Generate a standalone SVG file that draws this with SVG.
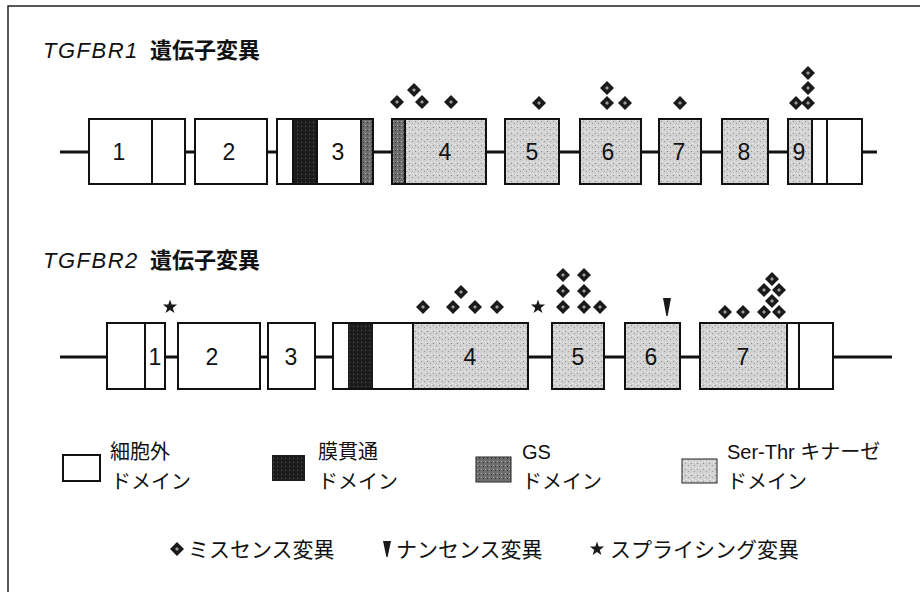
<svg xmlns="http://www.w3.org/2000/svg" width="920" height="592" viewBox="0 0 920 592">
<style>
.frame{fill:none;stroke:#222;stroke-width:1.5}
.ln{stroke:#111;stroke-width:3;fill:none}
.ex{fill:#fff;stroke:#111;stroke-width:2}
.dv{stroke:#111;stroke-width:2}
.tm{fill:url(#pTM)}
.gs{fill:url(#pGS)}
.kn{fill:url(#pKN)}
.num{font-family:"Liberation Sans",Arial,sans-serif;font-size:23px;fill:#111;text-anchor:middle}
.ttl{font-family:"Liberation Sans",Arial,sans-serif;font-style:italic;font-size:22px;fill:#111;letter-spacing:1.5px}
.tj{font-family:"Noto Sans CJK JP","Noto Sans",sans-serif;font-size:22px;font-weight:bold;fill:#111}
.jp{font-family:"Noto Sans CJK JP","Noto Sans",sans-serif;font-size:20px;fill:#111}
.lat{font-family:"Liberation Sans",Arial,"Noto Sans CJK JP",sans-serif;font-size:20px;fill:#111}
.leg{font-family:"Noto Sans CJK JP","Noto Sans",sans-serif;font-size:21px;fill:#111}
</style>
<defs>
<pattern id="pKN" width="6" height="6" patternUnits="userSpaceOnUse">
<rect width="6" height="6" fill="#d2d2d2"/>
<rect x="1" y="1" width="1" height="1" fill="#8a8a8a"/>
<rect x="4" y="3" width="1" height="1" fill="#9a9a9a"/>
<rect x="2" y="5" width="1" height="1" fill="#f0f0f0"/>
<rect x="5" y="0" width="1" height="1" fill="#f0f0f0"/>
</pattern>
<pattern id="pGS" width="4" height="4" patternUnits="userSpaceOnUse">
<rect width="4" height="4" fill="#6e6e6e"/>
<rect x="1" y="1" width="1" height="1" fill="#b0b0b0"/>
<rect x="3" y="2" width="1" height="1" fill="#333"/>
</pattern>
<pattern id="pTM" width="4" height="4" patternUnits="userSpaceOnUse">
<rect width="4" height="4" fill="#1c1c1c"/>
<rect x="1" y="2" width="1" height="1" fill="#555"/>
</pattern>
<g id="dia"><polygon points="0,-7 7,0 0,7 -7,0" fill="#1a1a1a"/><polygon points="0,-2 2,0 0,2 -2,0" fill="#9a9a9a"/></g>
<polygon id="star" points="0,-7.5 1.7,-2.4 7.1,-2.4 2.8,0.9 4.4,6.1 0,2.9 -4.4,6.1 -2.8,0.9 -7.1,-2.4 -1.7,-2.4" fill="#1a1a1a"/>
<polygon id="tri" points="-4,-9 4,-9 0.6,9 -0.6,9" fill="#1a1a1a"/>
</defs>

<path class="frame" d="M8,592 V6 H920"/>

<text x="43" y="58"><tspan class="ttl">TGFBR1</tspan><tspan class="tj" x="150">遺伝子変異</tspan></text>
<text x="43" y="268"><tspan class="ttl">TGFBR2</tspan><tspan class="tj" x="150">遺伝子変異</tspan></text>

<g id="connectors">
<line class="ln" x1="60" y1="152" x2="877" y2="152"/>
<line class="ln" x1="60" y1="357" x2="892" y2="357"/>
</g>

<g id="r1e1"><rect class="ex" x="89" y="119" width="96" height="65"/><line class="dv" x1="152" y1="119" x2="152" y2="184"/><text class="num" x="119" y="160">1</text></g>
<g id="r1e2"><rect class="ex" x="195" y="119" width="72" height="65"/><text class="num" x="229" y="160">2</text></g>
<g id="r1e3"><rect class="ex" x="277" y="119" width="96" height="65"/><rect class="tm" x="293" y="120" width="24" height="63"/><rect class="gs" x="361" y="120" width="11" height="63"/><line class="dv" x1="293" y1="119" x2="293" y2="184"/><line class="dv" x1="317" y1="119" x2="317" y2="184"/><line class="dv" x1="361" y1="119" x2="361" y2="184"/><rect x="277" y="119" width="96" height="65" fill="none" stroke="#111" stroke-width="2"/><text class="num" x="338" y="160">3</text></g>
<g id="r1e4"><rect class="ex kn" x="392" y="119" width="94" height="65"/><rect class="gs" x="393" y="120" width="12" height="63"/><line class="dv" x1="405" y1="119" x2="405" y2="184"/><text class="num" x="445" y="160">4</text></g>
<g id="r1e5"><rect class="ex kn" x="505" y="119" width="54" height="65"/><text class="num" x="532" y="160">5</text></g>
<g id="r1e6"><rect class="ex kn" x="580" y="119" width="61" height="65"/><text class="num" x="608" y="160">6</text></g>
<g id="r1e7"><rect class="ex kn" x="659" y="119" width="42" height="65"/><text class="num" x="679" y="160">7</text></g>
<g id="r1e8"><rect class="ex kn" x="722" y="119" width="46" height="65"/><text class="num" x="744" y="160">8</text></g>
<g id="r1e9"><rect class="ex" x="788" y="119" width="74" height="65"/><rect class="kn" x="789" y="120" width="23" height="63"/><line class="dv" x1="812" y1="119" x2="812" y2="184"/><line class="dv" x1="827" y1="119" x2="827" y2="184"/><text class="num" x="799" y="160">9</text></g>

<g id="r1marks">
<use href="#dia" x="397" y="102"/><use href="#dia" x="414" y="90"/><use href="#dia" x="422" y="102"/><use href="#dia" x="451" y="102"/>
<use href="#dia" x="539" y="103"/>
<use href="#dia" x="607" y="88"/><use href="#dia" x="607" y="103"/><use href="#dia" x="625" y="103"/>
<use href="#dia" x="680" y="103"/>
<use href="#dia" x="808" y="73"/><use href="#dia" x="808" y="88"/><use href="#dia" x="808" y="103"/><use href="#dia" x="796" y="103"/>
</g>

<g id="r2e1"><rect class="ex" x="107" y="323" width="58" height="66"/><line class="dv" x1="145" y1="323" x2="145" y2="389"/><text class="num" x="155" y="365">1</text></g>
<g id="r2e2"><rect class="ex" x="178" y="323" width="82" height="66"/><text class="num" x="212" y="365">2</text></g>
<g id="r2e3"><rect class="ex" x="268" y="323" width="47" height="66"/><text class="num" x="291" y="365">3</text></g>
<g id="r2e4"><rect class="ex" x="333" y="323" width="195" height="66"/><rect class="tm" x="348" y="324" width="25" height="64"/><rect class="kn" x="413" y="324" width="114" height="64"/><line class="dv" x1="413" y1="323" x2="413" y2="389"/><text class="num" x="470" y="365">4</text></g>
<g id="r2e5"><rect class="ex kn" x="552" y="323" width="52" height="66"/><text class="num" x="578" y="365">5</text></g>
<g id="r2e6"><rect class="ex kn" x="625" y="323" width="55" height="66"/><text class="num" x="651" y="365">6</text></g>
<g id="r2e7"><rect class="ex" x="700" y="323" width="133" height="66"/><rect class="kn" x="701" y="324" width="86" height="64"/><line class="dv" x1="787" y1="323" x2="787" y2="389"/><line class="dv" x1="799" y1="323" x2="799" y2="389"/><text class="num" x="743" y="365">7</text></g>

<g id="r2marks">
<use href="#star" x="170" y="307"/>
<use href="#dia" x="423" y="307"/><use href="#dia" x="453" y="307"/><use href="#dia" x="461" y="292"/><use href="#dia" x="475" y="307"/><use href="#dia" x="497" y="307"/>
<use href="#star" x="538" y="307"/>
<use href="#dia" x="563" y="275"/><use href="#dia" x="563" y="291"/><use href="#dia" x="563" y="307"/>
<use href="#dia" x="584" y="275"/><use href="#dia" x="584" y="291"/><use href="#dia" x="584" y="307"/><use href="#dia" x="600" y="307"/>
<use href="#tri" x="667" y="307"/>
<use href="#dia" x="725" y="312"/><use href="#dia" x="743" y="312"/><use href="#dia" x="764" y="312"/><use href="#dia" x="779" y="312"/>
<use href="#dia" x="772" y="301"/><use href="#dia" x="764" y="290"/><use href="#dia" x="779" y="290"/><use href="#dia" x="772" y="279"/>
</g>

<g id="legend-ec"><rect x="63" y="455" width="37" height="26" fill="#fff" stroke="#111" stroke-width="2"/><text class="jp" x="110" y="459">細胞外</text><text class="jp" x="111" y="489">ドメイン</text></g>
<g id="legend-tm"><rect class="tm" x="272" y="455" width="33" height="26"/><text class="jp" x="318" y="459">膜貫通</text><text class="jp" x="318" y="489">ドメイン</text></g>
<g id="legend-gs"><rect class="gs" x="476" y="457" width="35" height="25" stroke="#222" stroke-width="1"/><text class="lat" x="522" y="459">GS</text><text class="jp" x="522" y="489">ドメイン</text></g>
<g id="legend-kn"><rect class="kn" x="682" y="459" width="35" height="24" stroke="#222" stroke-width="1"/><text class="lat" x="727" y="459">Ser-Thr <tspan class="jp">キナーゼ</tspan></text><text class="jp" x="727" y="489">ドメイン</text></g>

<g id="legend-marks">
<use href="#dia" x="177" y="549"/>
<text class="leg" x="188" y="557">ミスセンス変異</text>
<polygon points="383,541 391,541 387.6,557 386.4,557" fill="#1a1a1a"/>
<text class="leg" x="396" y="557">ナンセンス変異</text>
<use href="#star" x="597" y="549"/>
<text class="leg" x="610" y="557">スプライシング変異</text>
</g>
</svg>
